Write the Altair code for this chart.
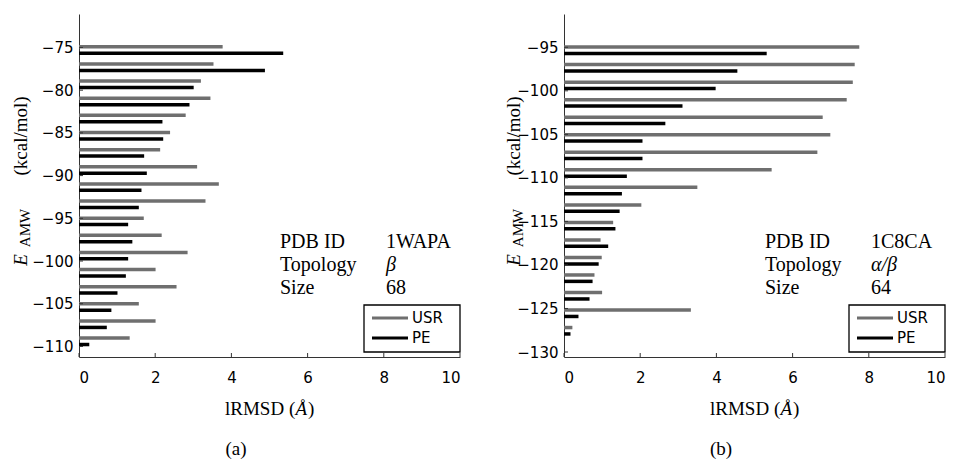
import altair as alt
import pandas as pd

# ---------------- data ----------------
LEFT_ENERGY = [-75.30, -77.31, -79.31, -81.32, -83.32, -85.33, -87.34, -89.34, -91.35,
               -93.35, -95.36, -97.37, -99.37, -101.38, -103.38, -105.39, -107.40, -109.40]
LEFT_USR = [3.77, 3.53, 3.20, 3.45, 2.80, 2.39, 2.13, 3.10, 3.67,
            3.32, 1.70, 2.17, 2.85, 2.01, 2.56, 1.57, 2.01, 1.33]
LEFT_PE = [5.36, 4.88, 3.01, 2.90, 2.19, 2.21, 1.71, 1.78, 1.64,
           1.57, 1.29, 1.40, 1.29, 1.23, 1.01, 0.85, 0.73, 0.27]

RIGHT_ENERGY = [-95.34, -97.35, -99.37, -101.38, -103.40, -105.41, -107.42, -109.44, -111.45,
                -113.47, -115.48, -117.49, -119.51, -121.52, -123.54, -125.55, -127.56]
RIGHT_USR = [7.75, 7.63, 7.58, 7.42, 6.79, 6.99, 6.65, 5.45, 3.50,
             2.03, 1.29, 0.96, 0.99, 0.80, 1.00, 3.33, 0.22]
RIGHT_PE = [5.32, 4.55, 3.98, 3.11, 2.66, 2.06, 2.06, 1.65, 1.52,
            1.46, 1.35, 1.16, 0.91, 0.75, 0.67, 0.38, 0.17]

X_TICKS = [0, 2, 4, 6, 8, 10]
LEFT_YTICKS = [-75, -80, -85, -90, -95, -100, -105, -110]
RIGHT_YTICKS = [-95, -100, -105, -110, -115, -120, -125, -130]
LEFT_YDOMAIN = [-110.65, -71.67]
RIGHT_YDOMAIN = [-130.0, -91.75]

INFO_KEYS = ["PDB ID", "Topology", "Size"]
LEFT_INFO = ["1WAPA", "β", "68"]
RIGHT_INFO = ["1C8CA", "α/β", "64"]

SERIES = ["USR", "PE"]
COLORS = {"USR": "#6f6f6f", "PE": "#000000"}

SANS = "DejaVu Sans"
SERIF = "Liberation Serif"
AXC = "#333333"
W, H = 381, 343


def text_layer(s, x, y, size, font=SERIF, align="left", baseline="alphabetic",
               angle=0, style="normal"):
    return alt.Chart(pd.DataFrame({"t": [s]})).mark_text(
        font=font, fontSize=size, align=align, baseline=baseline, angle=angle,
        fontStyle=style, color="black"
    ).encode(x=alt.value(x), y=alt.value(y), text="t:N")


def panel(energy, usr, pe, ydom, yticks, info, letter, ytx):
    df = pd.DataFrame({
        "energy": energy + energy,
        "lrmsd": usr + pe,
        "method": ["USR"] * len(usr) + ["PE"] * len(pe),
    })
    xs = alt.Scale(domain=[0, 10], nice=False)
    ys = alt.Scale(domain=ydom, nice=False, zero=False)
    xaxis = alt.Axis(values=X_TICKS, title=None, ticks=False, grid=False, labelPadding=13,
                     domainColor=AXC, domainWidth=1, labelFont=SANS, labelFontSize=15,
                     labelColor="black", format="d")
    yaxis = alt.Axis(values=yticks, title=None, ticks=False, grid=False, labelPadding=6,
                     domainColor=AXC, domainWidth=1, labelFont=SANS, labelFontSize=15,
                     labelColor="black", format="d")

    layers = []
    for m, off in zip(SERIES, [-3.2, 3.2]):
        layers.append(
            alt.Chart(df).transform_filter(alt.datum.method == m).mark_bar(
                orient="horizontal", size=3.5, yOffset=off, color=COLORS[m]
            ).encode(
                x=alt.X("lrmsd:Q", scale=xs, axis=xaxis),
                y=alt.Y("energy:Q", scale=ys, axis=yaxis),
            )
        )
    # inward ticks
    layers.append(
        alt.Chart(pd.DataFrame({"v": X_TICKS})).mark_rule(color=AXC, strokeWidth=1).encode(
            x=alt.X("v:Q", scale=xs, axis=xaxis), y=alt.value(H), y2=alt.value(H - 4))
    )
    layers.append(
        alt.Chart(pd.DataFrame({"v": yticks})).mark_rule(color=AXC, strokeWidth=1).encode(
            y=alt.Y("v:Q", scale=ys, axis=yaxis), x=alt.value(0), x2=alt.value(4))
    )
    # info text
    for i, (k, v) in enumerate(zip(INFO_KEYS, info)):
        yb = 234 + 23 * i
        layers.append(text_layer(k, 201, yb, 20))
        layers.append(text_layer(v, 307, yb, 20, style="italic" if i == 1 else "normal"))
    # legend box
    layers.append(
        alt.Chart(pd.DataFrame({"a": [0]})).mark_rect(
            fill="white", stroke="black", strokeWidth=1.3
        ).encode(x=alt.value(285), x2=alt.value(381), y=alt.value(291), y2=alt.value(338))
    )
    for i, m in enumerate(SERIES):
        yl = 304 + 20 * i
        layers.append(
            alt.Chart(pd.DataFrame({"a": [0]})).mark_rule(
                color=COLORS[m], strokeWidth=3
            ).encode(x=alt.value(293), x2=alt.value(329), y=alt.value(yl))
        )
        layers.append(text_layer(m, 333, yl, 15, font=SANS, baseline="middle"))
    # axis titles
    layers.append(text_layer("E", ytx, 246, 19, angle=270, align="center", style="italic"))
    layers.append(text_layer("AMW", ytx + 2.5, 214, 15, angle=270, align="center"))
    layers.append(text_layer("(kcal/mol)", ytx, 122, 19, angle=270, align="center"))
    layers.append(text_layer("lRMSD (", 146, 401, 19, align="left"))
    layers.append(text_layer("Å", 216.5, 401, 19, align="left", style="italic"))
    layers.append(text_layer(")", 229, 401, 19, align="left"))
    layers.append(text_layer(letter, 157, 441, 19, align="center"))

    return alt.layer(*layers).properties(width=W, height=H)


left = panel(LEFT_ENERGY, LEFT_USR, LEFT_PE, LEFT_YDOMAIN, LEFT_YTICKS, LEFT_INFO, "(a)", -52)
right = panel(RIGHT_ENERGY, RIGHT_USR, RIGHT_PE, RIGHT_YDOMAIN, RIGHT_YTICKS, RIGHT_INFO, "(b)", -44)

chart = alt.hconcat(left, right, spacing=44).configure_view(stroke=None).properties(
    padding={"left": 4, "top": 6, "right": 5, "bottom": 5}
)

chart.save("out.html", embed_options={"renderer": "svg", "actions": False})
